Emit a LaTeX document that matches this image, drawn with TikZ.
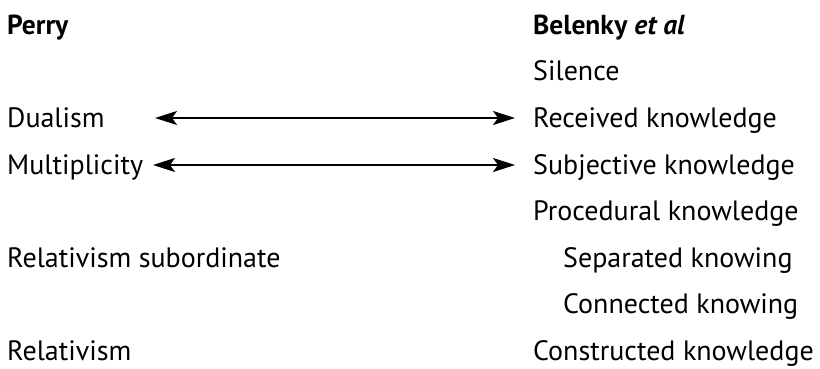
\documentclass[tikz,border=0pt]{standalone}
\usepackage{fontspec}
\setmainfont{PT Sans}
\usetikzlibrary{arrows.meta,positioning}
\tikzset{
  colhead/.style={anchor=base west, inner sep=0pt, font=\fontsize{27.5}{32}\selectfont\bfseries},
  stage/.style  ={anchor=base west, inner sep=0pt, font=\fontsize{28}{32}\selectfont},
  link/.style   ={{Stealth[length=22pt, width=14pt, inset=5pt]}-{Stealth[length=22pt, width=14pt, inset=5pt]},
                  line width=2pt, black},
}

\begin{document}
\begin{tikzpicture}[x=1pt, y=-1pt]
  \useasboundingbox (0,0) rectangle (820,369);
  % column heads
  \node[colhead] (perry)   at (7,34.5)   {Perry};
  \node[colhead] (belenky) at (533,34.5) {Belenky \textit{et al}};
  % Perry positions
  \node[stage] (dual)   at (7,127.5) {Dualism};
  \node[stage] (multi)  at (7,174)   {Multiplicity};
  \node[stage] (relsub) at (7,267)   {Relativism subordinate};
  \node[stage] (rel)    at (7,360)   {Relativism};
  % Belenky perspectives
  \node[stage] (sil)    at (533,81)    {Silence};
  \node[stage] (recv)   at (533,127.5) {Received knowledge};
  \node[stage] (subj)   at (533,174)   {Subjective knowledge};
  \node[stage] (proc)   at (533,220.5) {Procedural knowledge};
  \node[stage] (sep)    at (563,267)   {Separated knowing};
  \node[stage] (conn)   at (563,313.5) {Connected knowing};
  \node[stage] (constr) at (533,360)   {Constructed knowledge};
  % links
  \coordinate (dualL)  at (155,118);
  \coordinate (multiL) at (153,165);
  \draw[link] (dualL)  -- ([xshift=-18pt]recv.west |- dualL);
  \draw[link] (multiL) -- ([xshift=-18pt]subj.west |- multiL);
\end{tikzpicture}
\end{document}
